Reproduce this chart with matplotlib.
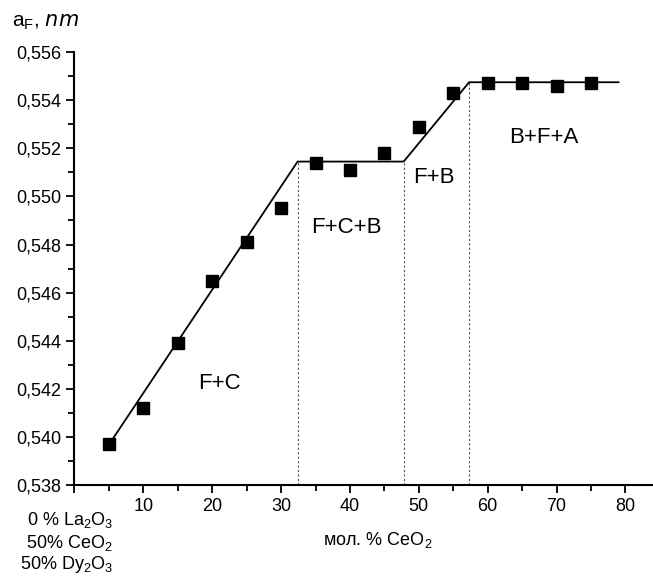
import matplotlib.pyplot as plt
from matplotlib.ticker import MultipleLocator, FuncFormatter

plt.rcParams['font.family'] = ['Liberation Sans', 'DejaVu Sans']

# measured points
ceo2 = [5, 10, 15, 20, 25, 30, 35, 40, 45, 50, 55, 60, 65, 70, 75]
a_f = [0.5397, 0.5412, 0.5439, 0.5465, 0.5481, 0.5495, 0.5514, 0.5511,
       0.5518, 0.5529, 0.5543, 0.5547, 0.5547, 0.5546, 0.5547]

# fitted broken line
fit_x = [5.3, 32.4, 47.8, 57.3, 79.0]
fit_y = [0.5398, 0.55145, 0.55145, 0.55475, 0.55475]

# phase boundaries
bounds_x = [32.4, 47.8, 57.3]
bounds_y = [0.55145, 0.55145, 0.55475]

regions = ['F+C', 'F+C+B', 'F+B', 'B+F+A']
region_x = [21.0, 39.5, 52.2, 68.2]
region_y = [0.5422, 0.5487, 0.5508, 0.55245]

fig = plt.figure(figsize=(6.53, 5.80), dpi=100)
ax = fig.add_axes([0.114, 0.164, 0.886, 0.746])

for bx, by in zip(bounds_x, bounds_y):
    ax.plot([bx, bx], [0.538, by], ls=(0, (2, 2)), color='#555555', lw=0.8)
ax.plot(fit_x, fit_y, color='black', lw=1.3)
ax.plot(ceo2, a_f, 's', color='black', markersize=8.5)

for txt, tx, ty in zip(regions, region_x, region_y):
    ax.text(tx, ty, txt, fontsize=16, ha='center', va='center')

ax.set_xlim(0, 84)
ax.set_ylim(0.538, 0.556)
ax.xaxis.set_major_locator(MultipleLocator(10))
ax.xaxis.set_minor_locator(MultipleLocator(5))
ax.yaxis.set_major_locator(MultipleLocator(0.002))
ax.yaxis.set_minor_locator(MultipleLocator(0.001))
ax.xaxis.set_major_formatter(FuncFormatter(lambda v, p: '' if v == 0 else f'{v:.0f}'))
ax.yaxis.set_major_formatter(FuncFormatter(lambda v, p: f'{v:.3f}'.replace('.', ',')))
ax.tick_params(which='both', direction='out', width=1.3, labelsize=13)
ax.tick_params(which='major', length=6)
ax.tick_params(which='minor', length=4)
for s in ['top', 'right']:
    ax.spines[s].set_visible(False)
for s in ['left', 'bottom']:
    ax.spines[s].set_linewidth(1.5)

fig.text(0.018, 0.961, r'a$_\mathregular{F}$, $\it{nm}$', fontsize=15, va='center')
fig.text(0.579, 0.069, r'мол. % CeO$_\mathregular{2}$', fontsize=13, ha='center', va='center')
fig.text(0.173, 0.103, r'0 % La$_\mathregular{2}$O$_\mathregular{3}$', fontsize=13, ha='right', va='center')
fig.text(0.173, 0.064, r'50% CeO$_\mathregular{2}$', fontsize=13, ha='right', va='center')
fig.text(0.173, 0.026, r'50% Dy$_\mathregular{2}$O$_\mathregular{3}$', fontsize=13, ha='right', va='center')

fig.savefig('out.png', dpi=100)
